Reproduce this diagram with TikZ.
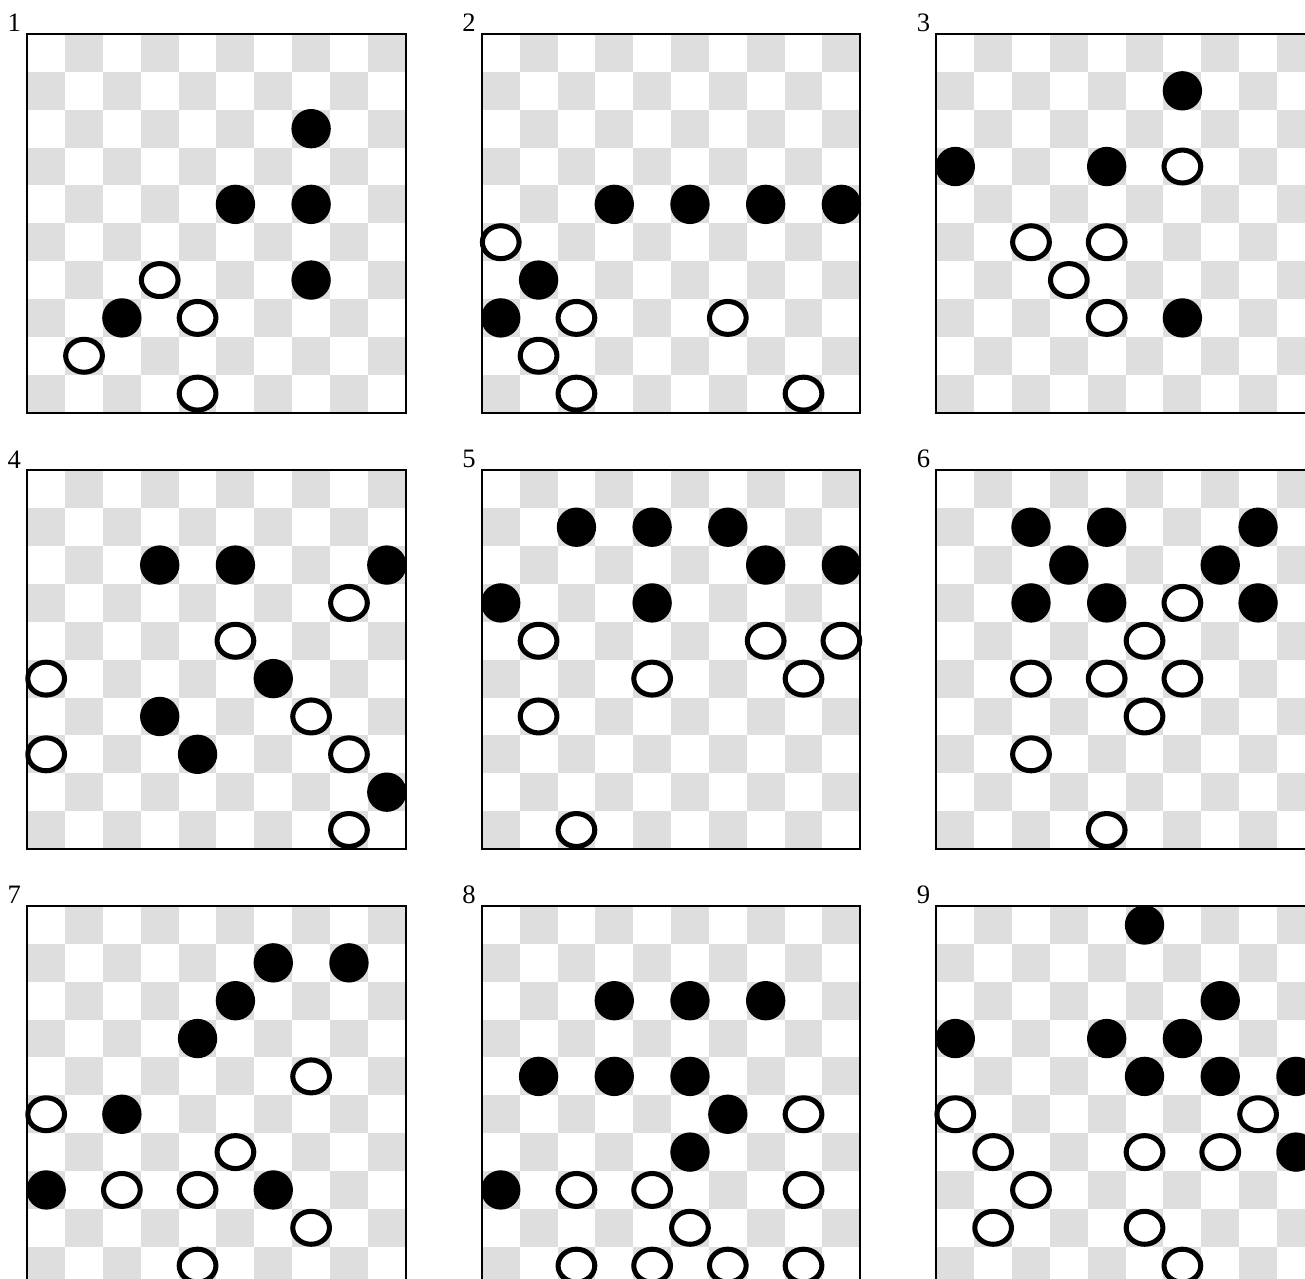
\documentclass[tikz,border=0pt]{standalone}
\usepackage{fontspec}
\setmainfont{Liberation Serif}
\usepackage{tikz}
\usetikzlibrary{positioning}
\definecolor{sqgray}{RGB}{222,222,222}
\newcommand{\draughtsboard}[5]{%
\begin{scope}[shift={(#2,#3)}]
\foreach \rw in {0,...,9}{\foreach \cl in {0,...,9}{\pgfmathtruncatemacro{\odd}{mod(\rw+\cl,2)}\ifnum\odd=1 \fill[sqgray] (\cl,-\rw) rectangle ++(1,-1);\fi}}
\draw[boardframe] (0,0) rectangle (10,-10);
\node[boardlabel] (lbl#1) at (-0.15,0.05) {#1};
\foreach \rw/\cl in {#4}{\fill[blackman] (\cl+0.5,-\rw-0.5) circle[radius=0.52];}
\foreach \rw/\cl in {#5}{\draw[whiteman] (\cl+0.5,-\rw-0.5) ellipse[x radius=0.485,y radius=0.435];}
\end{scope}}

\begin{document}
\begin{tikzpicture}[x=0.5cm,y=0.5cm,boardframe/.style={draw=black,line width=0.75pt},boardlabel/.style={anchor=south east,inner sep=0pt,font=\fontsize{10}{12}\selectfont},blackman/.style={fill=black},whiteman/.style={draw=black,fill=white,line width=1.9pt}]
\useasboundingbox (0,0) rectangle (34.48,-33.79);
\draughtsboard{1}{0.72}{-0.9}{2/7,4/5,4/7,6/7,7/2}{6/3,7/4,8/1,9/4}
\draughtsboard{2}{12.73}{-0.9}{4/3,4/5,4/7,4/9,6/1,7/0}{5/0,7/2,7/6,8/1,9/2,9/8}
\draughtsboard{3}{24.74}{-0.9}{1/6,3/0,3/4,7/6}{3/6,5/2,5/4,6/3,7/4}
\draughtsboard{4}{0.72}{-12.43}{2/3,2/5,2/9,5/6,6/3,7/4,8/9}{3/8,4/5,5/0,6/7,7/0,7/8,9/8}
\draughtsboard{5}{12.73}{-12.43}{1/2,1/4,1/6,2/7,2/9,3/0,3/4}{4/1,4/7,4/9,5/4,5/8,6/1,9/2}
\draughtsboard{6}{24.74}{-12.43}{1/2,1/4,1/8,2/3,2/7,3/2,3/4,3/8}{3/6,4/5,5/2,5/4,5/6,6/5,7/2,9/4}
\draughtsboard{7}{0.72}{-23.94}{1/6,1/8,2/5,3/4,5/2,7/0,7/6}{4/7,5/0,6/5,7/2,7/4,8/7,9/4}
\draughtsboard{8}{12.73}{-23.94}{2/3,2/5,2/7,4/1,4/3,4/5,5/6,6/5,7/0}{5/8,7/2,7/4,7/8,8/5,9/2,9/4,9/6,9/8}
\draughtsboard{9}{24.74}{-23.94}{0/5,2/7,3/0,3/4,3/6,4/5,4/7,4/9,6/9}{5/0,5/8,6/1,6/5,6/7,7/2,8/1,8/5,9/6}
\end{tikzpicture}
\end{document}
